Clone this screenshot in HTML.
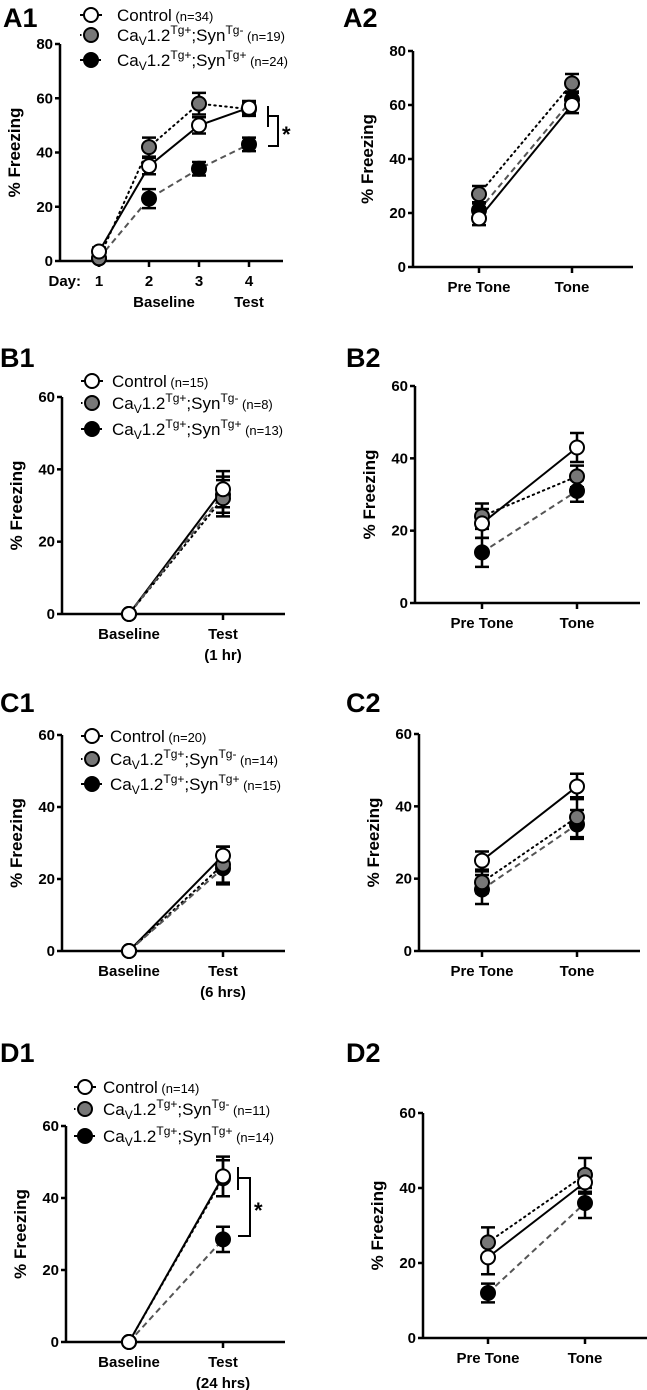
<!DOCTYPE html>
<html><head><meta charset="utf-8">
<style>
html,body{margin:0;padding:0;background:#fff;}
svg{display:block;font-family:"Liberation Sans",Arial,sans-serif;}
.pl{font-size:27px;font-weight:bold;}
.tk{font-size:15px;font-weight:bold;}
.yt{font-size:17px;font-weight:bold;}
.lg{font-size:17px;}
.ln{font-size:13px;}
</style></head>
<body>
<svg id="fig" width="647" height="1390" viewBox="0 0 647 1390"></svg>
<script>
// ===== data =====
const a1Categories=["1","2","3","4"];
const a1Control=[3.5,35,50,56.5];const a1ControlErr=[1.5,3,3,2.5];
const a1Gray=[1,42,58,56];const a1GrayErr=[1,3.5,4,2.5];
const a1Black=[1,23,34,43];const a1BlackErr=[1,3.5,2.5,2.5];
const a1Ticks=[0,20,40,60,80];
const a2Categories=["Pre Tone","Tone"];
const a2Control=[18,60];const a2ControlErr=[2.5,3];
const a2Gray=[27,68];const a2GrayErr=[3,3.5];
const a2Black=[21,62];const a2BlackErr=[2.5,3];
const a2Ticks=[0,20,40,60,80];
const b1Categories=["Baseline","Test"];
const b1Control=[0,34.5];const b1ControlErr=[0,5];
const b1Gray=[0,32];const b1GrayErr=[0,5];
const b1Black=[0,33];const b1BlackErr=[0,5];
const b2Categories=["Pre Tone","Tone"];
const b2Control=[22,43];const b2ControlErr=[4,4];
const b2Gray=[24,35];const b2GrayErr=[3.5,3];
const b2Black=[14,31];const b2BlackErr=[4,3];
const c1Categories=["Baseline","Test"];
const c1Control=[0,26.5];const c1ControlErr=[0,2.5];
const c1Gray=[0,24];const c1GrayErr=[0,5];
const c1Black=[0,23];const c1BlackErr=[0,4.5];
const c2Categories=["Pre Tone","Tone"];
const c2Control=[25,45.5];const c2ControlErr=[2.5,3.5];
const c2Gray=[19,37];const c2GrayErr=[3,5.5];
const c2Black=[17,35];const c2BlackErr=[4,4];
const d1Categories=["Baseline","Test"];
const d1Control=[0,46];const d1ControlErr=[0,5.5];
const d1Gray=[0,45.5];const d1GrayErr=[0,5];
const d1Black=[0,28.5];const d1BlackErr=[0,3.5];
const d2Categories=["Pre Tone","Tone"];
const d2Control=[21.5,41.5];const d2ControlErr=[4.5,3];
const d2Gray=[25.5,43.5];const d2GrayErr=[4,4.5];
const d2Black=[12,36];const d2BlackErr=[2.5,4];
const smallTicks=[0,20,40,60];

const NS="http://www.w3.org/2000/svg";
const svg=document.getElementById('fig');
function mk(tag,attrs,parent,text){const e=document.createElementNS(NS,tag);for(const k in attrs)e.setAttribute(k,attrs[k]);if(text!==undefined)e.textContent=text;(parent||svg).appendChild(e);return e;}

function panel(o){
  const g=mk('g',{});
  
  
  const lab=mk('text',{x:o.labX,y:o.labY,class:'pl'},g,o.label.toUpperCase());
  
  
  const ymax=o.ticks[o.ticks.length-1];
  const ys=v=>o.y0-(v/ymax)*(o.y0-o.yTop);
  const xs=i=>o.xPos[0]+i*(o.xPos[1]-o.xPos[0]);
  const ya=mk('line',{x1:o.ax,y1:o.yTop,x2:o.ax,y2:o.y0+1,stroke:'#000','stroke-width':2.5},g);
  
  
  const xa=mk('line',{x1:o.ax,y1:o.y0,x2:o.xEnd,y2:o.y0,stroke:'#000','stroke-width':2.5},g);
  
  
  o.ticks.forEach(t=>{
    mk('line',{x1:o.ax-5,y1:ys(t),x2:o.ax,y2:ys(t),stroke:'#000','stroke-width':2.5},g);
    const tl=mk('text',{x:o.ax-7,y:ys(t)+5,'text-anchor':'end',class:'tk'},g,t);
    
    
  });
  o.cats.forEach((c,i)=>{
    mk('line',{x1:xs(i),y1:o.y0,x2:xs(i),y2:o.y0+6,stroke:'#000','stroke-width':2.5},g);
    const xl=mk('text',{x:xs(i),y:o.y0+25,'text-anchor':'middle',class:'tk'},g,c);
    
    
  });
  if(o.sub){
    const sl=mk('text',{x:xs(1),y:o.y0+46,'text-anchor':'middle',class:'tk'},g,o.sub);
    
    
  }
  if(o.days){
    const d=mk('text',{x:xs(0)-18,y:o.y0+25,'text-anchor':'end',class:'tk'},g,'Day:');
    
    
    const b=mk('text',{x:(xs(1)+xs(2))/2-10,y:o.y0+46,'text-anchor':'middle',class:'tk'},g,'Baseline');
    
    
    const t=mk('text',{x:xs(3),y:o.y0+46,'text-anchor':'middle',class:'tk'},g,'Test');
    
    
  }
  const yt=mk('text',{transform:`translate(${o.ax-40},${(o.y0+o.yTop)/2}) rotate(-90)`,'text-anchor':'middle',class:'yt'},g,'% Freezing');
  
  
  const series=[
    {n:'control',v:o.control,e:o.controlErr,stroke:'#000',dash:'',fill:'#fff',lw:2},
    {n:'cav-syn-neg',v:o.gray,e:o.grayErr,stroke:'#000',dash:'1.5,4',fill:'#777',lw:2},
    {n:'cav-syn-pos',v:o.black,e:o.blackErr,stroke:'#555',dash:'6,4',fill:'#000',lw:2}
  ];
  series.forEach(s=>{
    const pts=s.v.map((v,i)=>xs(i)+','+ys(v)).join(' ');
    const pl=mk('polyline',{points:pts,fill:'none',stroke:s.stroke,'stroke-width':s.lw,'stroke-dasharray':s.dash,'stroke-linecap':s.dash==='1.5,4'?'round':'butt'},g);
    
    
  });
  series.slice().reverse().forEach(s=>{
    s.v.forEach((v,i)=>{
      if(s.e[i]>0){
        const x=xs(i),t=ys(v+s.e[i]),b=ys(v-s.e[i]);
        const eb=mk('path',{d:`M${x},${t}V${b}M${x-7},${t}H${x+7}M${x-7},${b}H${x+7}`,stroke:'#000','stroke-width':2.5,fill:'none'},g);
        
        
      }
    });
  });
  series.slice().reverse().forEach(s=>{
    s.v.forEach((v,i)=>{
      const c=mk('circle',{cx:xs(i),cy:ys(v),r:7,fill:s.fill,stroke:'#000','stroke-width':2},g);
      
      
    });
  });
  if(o.legend){
    const L=o.legend;
    const rows=[['Control',' (n='+L.n[0]+')','#fff','',''],['Ca','','#777','Tg-',' (n='+L.n[1]+')'],['Ca','','#000','Tg+',' (n='+L.n[2]+')']];
    const dashes=['','1.5,4','5,3'];
    rows.forEach((r,k)=>{
      const lg=mk('g',{},g);
      
      
      const y=L.ys[k];
      mk('line',{x1:L.mx-11,y1:y,x2:L.mx+11,y2:y,stroke:'#000','stroke-width':2,'stroke-dasharray':dashes[k]},lg);
      mk('circle',{cx:L.mx,cy:y,r:7,fill:r[2],stroke:'#000','stroke-width':2},lg);
      const t=mk('text',{x:L.tx,y:y+6,class:'lg'},lg);
      if(k===0){
        mk('tspan',{},t,'Control');mk('tspan',{class:'ln'},t,r[1]);
      }else{
        mk('tspan',{},t,'Ca');
        mk('tspan',{dy:4,'font-size':'12px'},t,'V');
        mk('tspan',{dy:-4},t,'1.2');
        mk('tspan',{dy:-7,'font-size':'12px'},t,'Tg+');
        mk('tspan',{dy:7},t,';Syn');
        mk('tspan',{dy:-7,'font-size':'12px'},t,r[3]);
        mk('tspan',{dy:7,class:'ln'},t,r[4]);
      }
    });
  }
  if(o.sig){
    const S=o.sig;
    const br=mk('path',{d:`M${S.x1},${S.a1}V${S.a2}M${S.x1},${S.mid1}H${S.x2}V${S.b}H${S.x1}`,stroke:'#000','stroke-width':2,fill:'none'},g);
    
    
    const st=mk('text',{x:S.x2+4,y:(S.mid1+S.b)/2+11,'font-size':'22px','font-weight':'bold'},g,'*');
    
    
  }
}

panel({id:'a1',label:'A1',labX:3,labY:27,ax:60,yTop:44,y0:261,xEnd:283,xPos:[99,149],ticks:a1Ticks,cats:a1Categories,days:true,
  control:a1Control,controlErr:a1ControlErr,gray:a1Gray,grayErr:a1GrayErr,black:a1Black,blackErr:a1BlackErr,
  legend:{mx:91,tx:117,ys:[15,35,60],n:[34,19,24]},
  sig:{x1:268,a1:106,a2:127,mid1:116,x2:278,b:146}});
panel({id:'a2',label:'A2',labX:343,labY:27,ax:413,yTop:51,y0:267,xEnd:633,xPos:[479,572],ticks:a2Ticks,cats:a2Categories,
  control:a2Control,controlErr:a2ControlErr,gray:a2Gray,grayErr:a2GrayErr,black:a2Black,blackErr:a2BlackErr});
panel({id:'b1',label:'B1',labX:0,labY:367,ax:62,yTop:397,y0:614,xEnd:285,xPos:[129,223],ticks:smallTicks,cats:b1Categories,sub:'(1 hr)',
  control:b1Control,controlErr:b1ControlErr,gray:b1Gray,grayErr:b1GrayErr,black:b1Black,blackErr:b1BlackErr,
  legend:{mx:92,tx:112,ys:[381,403,429],n:[15,8,13]}});
panel({id:'b2',label:'B2',labX:346,labY:367,ax:415,yTop:386,y0:603,xEnd:640,xPos:[482,577],ticks:smallTicks,cats:b2Categories,
  control:b2Control,controlErr:b2ControlErr,gray:b2Gray,grayErr:b2GrayErr,black:b2Black,blackErr:b2BlackErr});
panel({id:'c1',label:'C1',labX:0,labY:712,ax:62,yTop:735,y0:951,xEnd:285,xPos:[129,223],ticks:smallTicks,cats:c1Categories,sub:'(6 hrs)',
  control:c1Control,controlErr:c1ControlErr,gray:c1Gray,grayErr:c1GrayErr,black:c1Black,blackErr:c1BlackErr,
  legend:{mx:92,tx:110,ys:[736,759,784],n:[20,14,15]}});
panel({id:'c2',label:'C2',labX:346,labY:712,ax:419,yTop:734,y0:951,xEnd:640,xPos:[482,577],ticks:smallTicks,cats:c2Categories,
  control:c2Control,controlErr:c2ControlErr,gray:c2Gray,grayErr:c2GrayErr,black:c2Black,blackErr:c2BlackErr});
panel({id:'d1',label:'D1',labX:0,labY:1062,ax:66,yTop:1126,y0:1342,xEnd:285,xPos:[129,223],ticks:smallTicks,cats:d1Categories,sub:'(24 hrs)',
  control:d1Control,controlErr:d1ControlErr,gray:d1Gray,grayErr:d1GrayErr,black:d1Black,blackErr:d1BlackErr,
  legend:{mx:85,tx:103,ys:[1087,1109,1136],n:[14,11,14]},
  sig:{x1:238,a1:1167,a2:1190,mid1:1178,x2:250,b:1236}});
panel({id:'d2',label:'D2',labX:346,labY:1062,ax:423,yTop:1113,y0:1338,xEnd:647,xPos:[488,585],ticks:smallTicks,cats:d2Categories,
  control:d2Control,controlErr:d2ControlErr,gray:d2Gray,grayErr:d2GrayErr,black:d2Black,blackErr:d2BlackErr});
</script>
</body></html>
